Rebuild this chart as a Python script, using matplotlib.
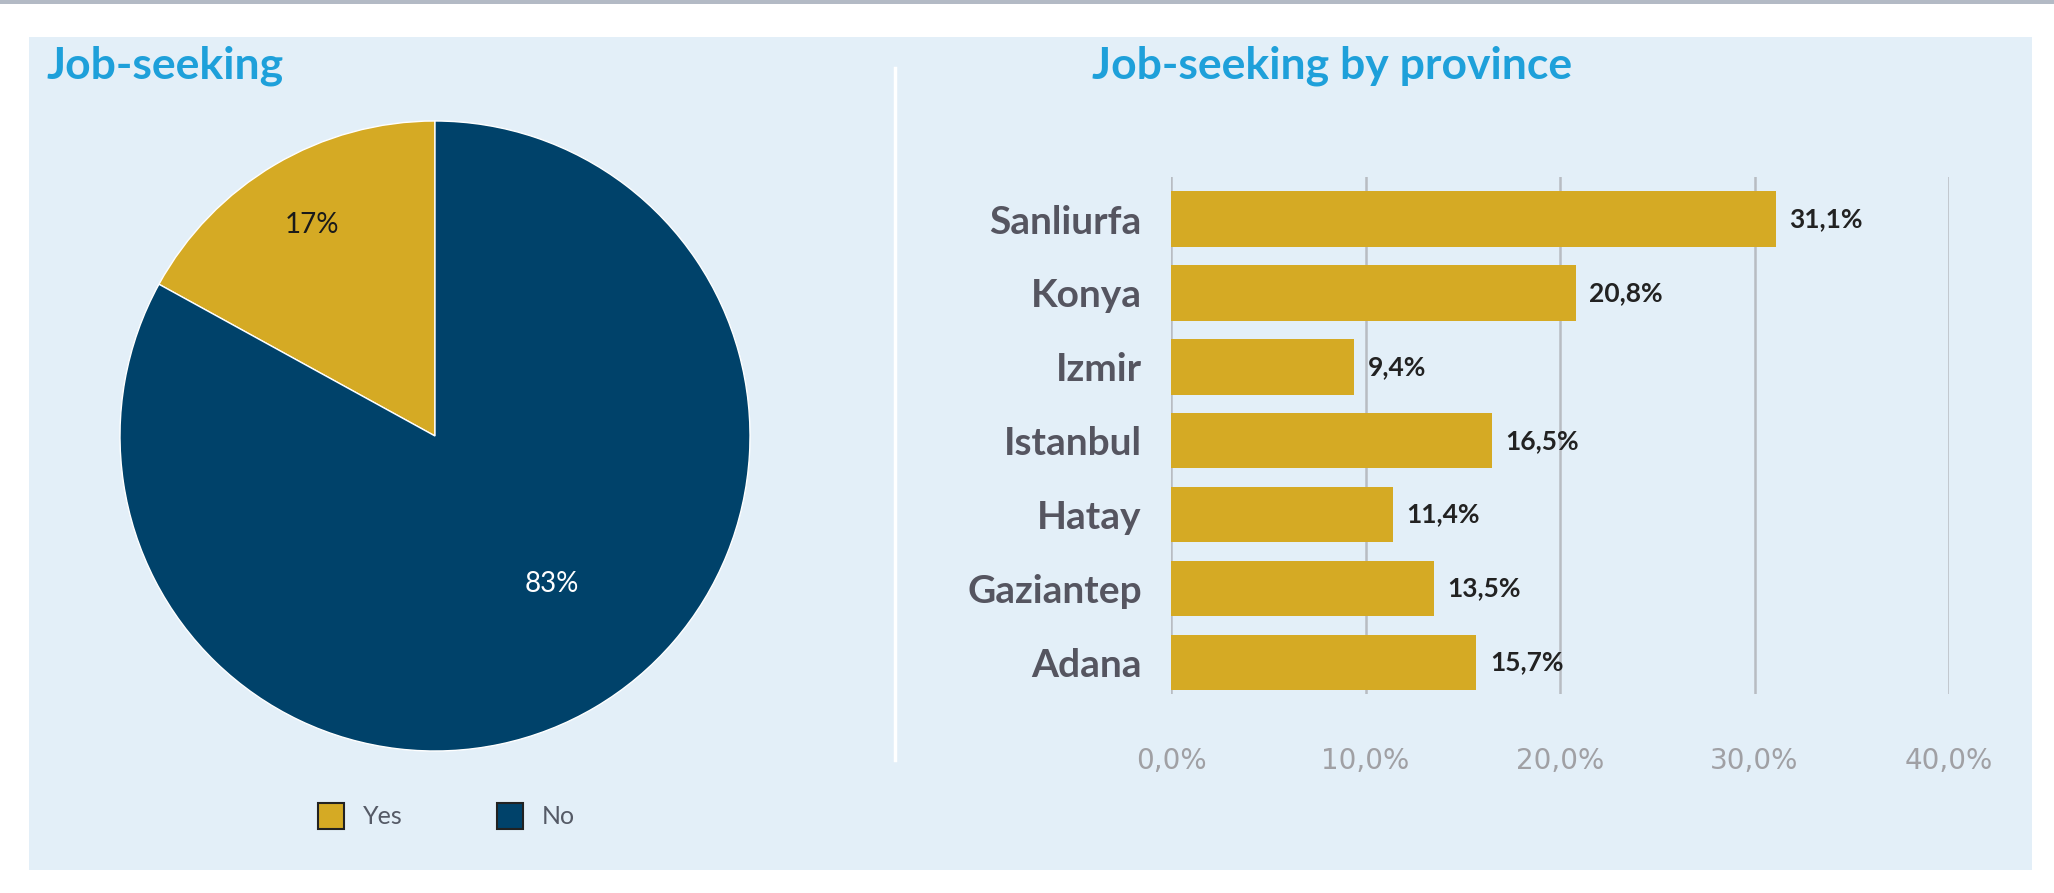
import matplotlib.pyplot as plt
from matplotlib.patches import Rectangle
from matplotlib.lines import Line2D

# data
pie_labels = ['Yes', 'No']
pie_values = [17, 83]
provinces = ['Sanliurfa', 'Konya', 'Izmir', 'Istanbul', 'Hatay', 'Gaziantep', 'Adana']
shares = [31.1, 20.8, 9.4, 16.5, 11.4, 13.5, 15.7]
x_ticks = [0, 10, 20, 30, 40]

GOLD = '#D5AA24'
NAVY = '#00426A'
PANEL = '#E3EFF8'
TITLE = '#1EA0DA'
FONT = ['Lato', 'DejaVu Sans']

W, H = 2054, 893
fig = plt.figure(figsize=(W / 100, H / 100), dpi=100)
fig.patch.set_facecolor('white')

# background panel and top rule
fig.patches.append(Rectangle((29 / W, 1 - 870 / H), (2032 - 29) / W, (870 - 37) / H,
                             transform=fig.transFigure, facecolor=PANEL, edgecolor='none', zorder=-5))
fig.patches.append(Rectangle((0, 1 - 4 / H), 1, 4 / H, transform=fig.transFigure,
                             facecolor='#B3BAC5', edgecolor='none', zorder=-5))
fig.lines.append(Line2D([895 / W, 895 / W], [1 - 68 / H, 1 - 760 / H], transform=fig.transFigure,
                        color='white', lw=2.5, zorder=-4))

fig.text(46 / W, 1 - 66 / H, 'Job-seeking', color=TITLE, fontsize=32, fontweight='bold',
         family=FONT, ha='left', va='center')
fig.text(1332 / W, 1 - 66 / H, 'Job-seeking by province', color=TITLE, fontsize=32,
         fontweight='bold', family=FONT, ha='center', va='center')

# pie
cx, cy, r = 435, 436, 315
axp = fig.add_axes([(cx - r) / W, 1 - (cy + r) / H, 2 * r / W, 2 * r / H])
axp.set_facecolor('none')
wedges, _ = axp.pie(pie_values, colors=[GOLD, NAVY], startangle=90, counterclock=True,
                    wedgeprops=dict(edgecolor='white', linewidth=1))
axp.set_xlim(-1, 1)
axp.set_ylim(-1, 1)
axp.set_aspect('auto')
axp.axis('off')
axp.text(-0.39, 0.67, f'{pie_values[0]}%', color='#1a1a1a', fontsize=20, family=FONT,
         ha='center', va='center')
axp.text(0.37, -0.47, f'{pie_values[1]}%', color='white', fontsize=20, family=FONT,
         ha='center', va='center')

# pie legend
for lab, col, x0 in zip(pie_labels, [GOLD, NAVY], [331, 510]):
    fig.patches.append(Rectangle(((x0 - 13) / W, 1 - (816 + 13) / H), 26 / W, 26 / H,
                                 transform=fig.transFigure, facecolor=col,
                                 edgecolor='#222222', lw=1.5))
    fig.text((x0 + 32) / W, 1 - 816 / H, lab, color='#555a66', fontsize=18, family=FONT,
             ha='left', va='center')

# bars
axb = fig.add_axes([1171 / W, 1 - 694 / H, (1949 - 1171) / W, (694 - 177) / H])
axb.set_facecolor('none')
ypos = list(range(len(provinces) - 1, -1, -1))
axb.barh(ypos, shares, height=0.75, color=GOLD, zorder=3)
axb.set_xlim(0, 40)
axb.set_ylim(-0.43, 6.57)
for t in x_ticks:
    axb.axvline(t, color='#B8BCC2', lw=1.8, zorder=1)
for s in axb.spines.values():
    s.set_visible(False)
axb.set_yticks(ypos)
axb.set_yticklabels(provinces, family=FONT, fontsize=28, color='#555560', fontweight='bold')
axb.set_xticks(x_ticks)
axb.set_xticklabels([f'{t:.1f}%'.replace('.', ',') for t in x_ticks], family='DejaVu Sans',
                    fontsize=20, color='#a0a0a4')
axb.tick_params(axis='y', length=0, pad=21)
axb.tick_params(axis='x', length=0, pad=38)
for y, v in zip(ypos, shares):
    axb.text(v + 0.7, y, f'{v:.1f}%'.replace('.', ','), color='#222222', fontsize=19,
             fontweight='bold', family=FONT, ha='left', va='center')

fig.savefig('out.png', dpi=100, facecolor='white')
